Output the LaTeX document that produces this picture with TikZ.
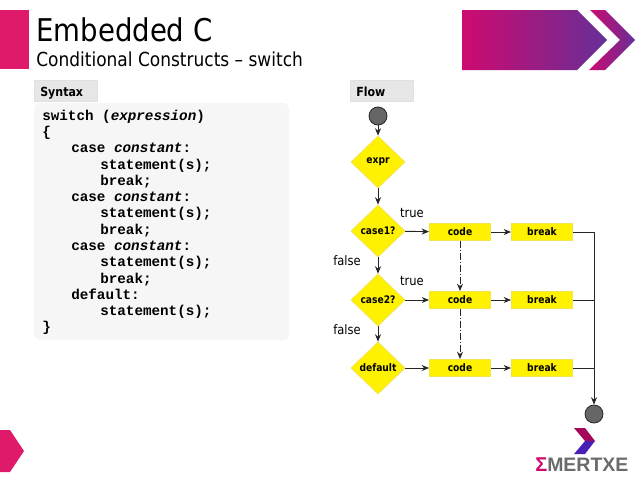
\documentclass[tikz,border=0pt]{standalone}
\usepackage{fontspec}
\setmainfont{DejaVu Sans}[FakeStretch=0.88]
\setmonofont{Liberation Mono}
\newfontfamily\logofont{Liberation Sans}
\usetikzlibrary{shapes.geometric,arrows.meta}
\definecolor{flowyellow}{HTML}{FFF200}
\definecolor{flowedge}{HTML}{F2E34C}
\definecolor{tabgrey}{HTML}{E6E6E6}
\definecolor{panelgrey}{HTML}{F6F6F6}
\definecolor{brandpink}{HTML}{E01A6B}
\definecolor{gradL}{HTML}{CE0A70}
\definecolor{gradR}{HTML}{662F96}
\definecolor{endgrey}{HTML}{666666}
\definecolor{logogrey}{HTML}{6B6B6B}
\tikzset{
  x=0.75pt,y=-0.75pt,
  decision/.style={diamond,aspect=1,fill=flowyellow,draw=flowedge,line width=0.6pt,inner sep=0pt,minimum width=40.5pt,minimum height=39pt,font=\fontsize{7.8}{9}\selectfont\bfseries},
  action/.style={rectangle,fill=flowyellow,draw=flowedge,line width=0.5pt,inner sep=0pt,minimum width=46pt,minimum height=13pt,font=\fontsize{7.8}{9}\selectfont\bfseries},
  terminal/.style={circle,fill=endgrey,draw=black!85,line width=0.6pt,inner sep=0pt,minimum size=13.5pt},
  flow/.style={draw=black!85,line width=0.7pt,-{Stealth[length=5.5pt,width=4.5pt]}},
  flowplain/.style={draw=black!85,line width=0.7pt},
  jump/.style={flow,dash pattern=on 5pt off 1.5pt on 1pt off 1.5pt},
  tab/.style={rectangle,fill=tabgrey,draw=black!12,line width=0.3pt,anchor=north west,inner sep=0pt,minimum width=47pt,minimum height=15.5pt},
  tabtext/.style={anchor=base west,inner sep=0pt,font=\fontsize{9.4}{11}\selectfont\bfseries},
  code/.style={anchor=base west,inner sep=0pt,font=\fontsize{10.7}{12}\ttfamily\bfseries},
  lbl/.style={anchor=base,inner sep=0pt,font=\fontsize{9.8}{11}\selectfont},
}
\begin{document}
\begin{tikzpicture}
\useasboundingbox (0,0) rectangle (638,479);
\fill[white] (0,0) rectangle (638,479);
% brand shapes
\fill[brandpink] (0,10) rectangle (29,69);
\fill[brandpink] (0,430) -- (10,430) -- (24,451) -- (10,472) -- (0,472) -- cycle;
\shade[left color=gradL,right color=gradR] (462,10) -- (577,10) -- (607,40) -- (577,70) -- (462,70) -- cycle;
\shade[left color=gradL,right color=gradR] (590,10) -- (605,10) -- (635,40) -- (605,70) -- (589,70) -- (620,40) -- cycle;
% titles
\node[anchor=base west,inner sep=0pt,font=\fontsize{23.5}{28}\selectfont] (title) at (36,41) {Embedded C};
\node[anchor=base west,inner sep=0pt,font=\fontsize{14.5}{17}\selectfont] (subtitle) at (36,66) {Conditional Constructs – switch};
% tabs
\node[tab] (syntaxtab) at (34,80) {};
\node[tab] (flowtab) at (350,80) {};
\node[tabtext] (syntaxlabel) at (40,96) {Syntax};
\node[tabtext] (flowlabel) at (356,96) {Flow};
% code panel
\fill[panelgrey,rounded corners=4pt] (34,103) rectangle (289,340);
\node[code] (c1) at (42,120) {switch (\textit{expression})};
\node[code] (c2) at (42,136) {\{};
\node[code] (c3) at (71,152) {case \textit{constant}:};
\node[code] (c4) at (100,169) {statement(s);};
\node[code] (c5) at (100,185) {break;};
\node[code] (c6) at (71,201) {case \textit{constant}:};
\node[code] (c7) at (100,217) {statement(s);};
\node[code] (c8) at (100,234) {break;};
\node[code] (c9) at (71,250) {case \textit{constant}:};
\node[code] (c10) at (100,266) {statement(s);};
\node[code] (c11) at (100,283) {break;};
\node[code] (c12) at (71,299) {default:};
\node[code] (c13) at (100,315) {statement(s);};
\node[code] (c14) at (42,331) {\}};
% flow
\node[terminal] (start) at (378,116) {};
\node[decision] (expr) at (378,162) {expr};
\node[decision] (case1) at (378,231) {case1?};
\node[decision] (case2) at (378,300) {case2?};
\node[decision] (default) at (378,368) {default};
\node[action] (code1) at (460,232) {code};
\node[action] (code2) at (460,300) {code};
\node[action] (code3) at (460,368) {code};
\node[action] (break1) at (542,232) {break};
\node[action] (break2) at (542,300) {break};
\node[action] (break3) at (542,368) {break};
\node[terminal] (finish) at (594,414) {};
\coordinate (j1) at (finish.north |- break1);
\coordinate (j2) at (finish.north |- break2);
\coordinate (j3) at (finish.north |- break3);
\draw[flow] (start) -- (expr);
\draw[flow] (expr) -- (case1);
\draw[flow] (case1) -- (case2);
\draw[flow] (case2) -- (default);
\draw[flow] (case1) -- (code1);
\draw[flow] (case2) -- (code2);
\draw[flow] (default) -- (code3);
\draw[flow] (code1) -- (break1);
\draw[flow] (code2) -- (break2);
\draw[flow] (code3) -- (break3);
\draw[jump] (code1) -- (code2);
\draw[jump] (code2) -- (code3);
\draw[flowplain] (break1) -- (j1);
\draw[flowplain] (break2) -- (j2);
\draw[flowplain] (break3) -- (j3);
\draw[flow] (j1) -- (finish);
\node[lbl] (t1) at (412,217) {true};
\node[lbl] (f1) at (347,265) {false};
\node[lbl] (t2) at (412,285) {true};
\node[lbl] (f2) at (347,334) {false};
% logo
\fill[gradL!80!black] (574,428) -- (585,428) -- (595,441) -- (585,441) -- cycle;
\fill[gradR!70!blue] (585,441) -- (595,441) -- (585,454) -- (574,454) -- cycle;
\node[anchor=base west,inner sep=0pt,text=gradL,font=\fontsize{15}{17}\logofont\bfseries] (sigma) at (535,471) {Σ};
\node[anchor=base west,inner sep=0pt,text=logogrey,font=\fontsize{14.6}{17}\logofont\bfseries] (logo) at (547,471) {MERTXE};
\end{tikzpicture}
\end{document}
